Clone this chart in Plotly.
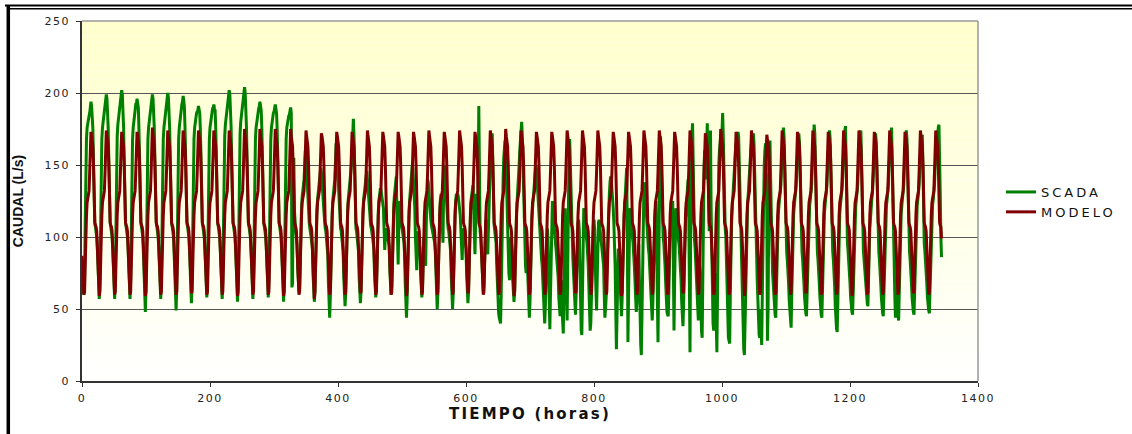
import plotly.graph_objects as go

# ---------------- data ----------------
X_TICKS = [0, 200, 400, 600, 800, 1000, 1200, 1400]
Y_TICKS = [0, 50, 100, 150, 200, 250]

# SCADA: one row per day, 24 hourly values (L/s)
SCADA_DIAS = [
    [66, 62, 61, 61, 70, 110, 148, 168, 176, 180, 181, 184, 186, 190, 194, 191, 184, 175, 150, 120, 110, 107, 104, 100],
    [92, 75, 64, 57, 70, 110, 148, 168, 176, 180, 184, 187, 189, 195, 199, 196, 187, 175, 150, 120, 110, 107, 104, 100],
    [92, 75, 64, 57, 70, 112, 150, 170, 178, 182, 185, 188, 190, 198, 202, 199, 188, 176, 150, 120, 110, 107, 104, 100],
    [92, 75, 64, 57, 70, 110, 148, 168, 176, 180, 187, 190, 192, 192, 196, 193, 190, 175, 150, 120, 110, 107, 104, 100],
    [88, 70, 56, 48, 64, 108, 148, 168, 176, 180, 183, 186, 188, 195, 199, 196, 186, 175, 150, 120, 110, 107, 104, 100],
    [92, 75, 64, 57, 70, 110, 148, 168, 176, 180, 186, 189, 191, 196, 200, 197, 189, 175, 150, 120, 110, 107, 104, 100],
    [88, 70, 56, 49, 64, 108, 148, 168, 176, 180, 187, 190, 192, 194, 198, 195, 190, 175, 150, 120, 110, 107, 104, 100],
    [90, 72, 60, 54, 68, 110, 148, 168, 176, 180, 183, 186, 187, 188, 191, 188, 186, 174, 150, 120, 110, 107, 104, 100],
    [92, 76, 65, 58, 70, 110, 148, 168, 176, 180, 185, 188, 189, 189, 192, 189, 188, 175, 150, 120, 110, 107, 104, 100],
    [92, 75, 64, 57, 70, 112, 150, 170, 178, 182, 187, 190, 192, 198, 202, 199, 190, 176, 150, 120, 110, 107, 104, 100],
    [92, 74, 62, 55, 68, 112, 150, 172, 180, 184, 189, 192, 194, 200, 204, 200, 192, 176, 150, 120, 110, 107, 104, 100],
    [92, 75, 64, 57, 70, 110, 148, 168, 176, 180, 185, 188, 189, 191, 194, 191, 188, 175, 150, 120, 110, 107, 104, 100],
    [92, 76, 65, 58, 70, 110, 148, 168, 176, 180, 183, 186, 187, 189, 192, 189, 186, 174, 150, 120, 110, 107, 104, 100],
    [90, 72, 62, 55, 68, 110, 148, 168, 176, 180, 181, 184, 185, 187, 190, 186, 65, 68, 150, 155, 118, 108, 104, 100],
    [94, 78, 66, 62, 64, 88, 108, 120, 128, 132, 136, 140, 150, 160, 156, 145, 140, 132, 120, 110, 106, 104, 100, 96],
    [92, 74, 62, 55, 62, 86, 106, 118, 126, 130, 134, 138, 142, 148, 145, 135, 130, 125, 118, 110, 106, 104, 100, 96],
    [88, 68, 52, 44, 58, 84, 106, 118, 126, 130, 134, 140, 152, 165, 160, 150, 140, 130, 118, 110, 106, 104, 100, 96],
    [90, 72, 60, 52, 60, 86, 106, 118, 126, 130, 134, 138, 145, 150, 160, 172, 182, 170, 140, 115, 106, 104, 100, 96],
    [90, 72, 60, 54, 62, 86, 106, 118, 126, 130, 134, 138, 142, 146, 140, 132, 128, 122, 115, 108, 106, 104, 100, 96],
    [92, 75, 64, 58, 64, 88, 106, 118, 126, 130, 133, 133, 130, 128, 125, 120, 105, 91, 100, 106, 104, 102, 100, 96],
    [94, 76, 66, 60, 66, 88, 108, 120, 128, 134, 140, 142, 120, 95, 81, 110, 125, 120, 112, 108, 106, 104, 100, 96],
    [88, 68, 52, 44, 56, 84, 106, 118, 126, 132, 140, 145, 150, 148, 140, 130, 120, 100, 90, 77, 95, 104, 100, 96],
    [92, 75, 64, 58, 64, 88, 100, 90, 85, 80, 110, 130, 140, 138, 130, 122, 118, 112, 108, 106, 104, 102, 100, 96],
    [90, 72, 58, 50, 60, 86, 106, 118, 126, 130, 120, 105, 96, 130, 150, 145, 135, 125, 115, 108, 106, 104, 100, 96],
    [90, 72, 58, 50, 60, 86, 106, 118, 126, 130, 128, 130, 128, 124, 120, 115, 105, 95, 84, 100, 106, 104, 100, 96],
    [92, 74, 62, 54, 62, 86, 106, 118, 126, 130, 134, 136, 120, 100, 88, 110, 130, 128, 120, 140, 191, 110, 104, 100],
    [90, 78, 68, 62, 66, 88, 106, 112, 100, 92, 88, 105, 125, 140, 150, 160, 168, 172, 150, 120, 108, 104, 100, 96],
    [80, 62, 50, 47, 44, 42, 40, 60, 100, 125, 140, 155, 162, 167, 160, 140, 120, 100, 85, 75, 70, 95, 100, 96],
    [90, 70, 60, 55, 62, 86, 106, 118, 126, 132, 140, 150, 160, 170, 176, 180, 170, 150, 120, 100, 85, 80, 75, 85],
    [80, 62, 50, 44, 55, 80, 100, 112, 120, 126, 132, 140, 145, 150, 148, 140, 130, 118, 108, 100, 95, 90, 85, 80],
    [70, 55, 45, 40, 52, 78, 96, 106, 100, 70, 45, 36, 60, 95, 120, 125, 118, 110, 104, 100, 95, 90, 85, 80],
    [72, 58, 48, 45, 55, 70, 50, 38, 33, 60, 100, 120, 90, 60, 42, 80, 130, 160, 168, 150, 120, 104, 95, 85],
    [75, 60, 50, 46, 58, 82, 100, 110, 112, 105, 80, 50, 35, 32, 60, 100, 120, 118, 110, 104, 100, 96, 90, 80],
    [65, 45, 35, 40, 62, 86, 100, 108, 112, 105, 80, 60, 49, 70, 100, 110, 112, 108, 104, 100, 96, 92, 88, 80],
    [60, 44, 50, 58, 76, 95, 110, 120, 130, 138, 142, 140, 135, 128, 120, 110, 100, 80, 50, 22, 45, 80, 92, 85],
    [75, 60, 50, 45, 58, 82, 100, 112, 122, 135, 145, 148, 110, 27, 60, 100, 120, 118, 110, 104, 100, 96, 90, 80],
    [70, 55, 48, 55, 70, 90, 95, 70, 40, 25, 18, 45, 95, 120, 135, 138, 130, 118, 108, 100, 96, 92, 88, 80],
    [72, 58, 48, 42, 55, 80, 100, 112, 120, 125, 90, 45, 27, 70, 130, 160, 170, 150, 120, 104, 100, 96, 90, 80],
    [68, 55, 48, 46, 45, 62, 90, 104, 112, 120, 124, 125, 95, 35, 70, 110, 120, 116, 108, 102, 98, 94, 88, 80],
    [70, 55, 42, 38, 52, 80, 100, 112, 120, 128, 135, 140, 120, 80, 20, 100, 150, 170, 179, 140, 110, 98, 92, 82],
    [70, 55, 46, 42, 55, 80, 70, 45, 35, 30, 80, 130, 150, 160, 150, 140, 160, 179, 150, 115, 104, 140, 174, 120],
    [80, 52, 40, 35, 50, 75, 60, 35, 20, 60, 120, 150, 160, 165, 170, 160, 175, 186, 170, 140, 115, 106, 100, 80],
    [58, 40, 30, 28, 26, 60, 95, 110, 120, 130, 140, 150, 155, 160, 165, 160, 165, 173, 170, 150, 130, 110, 90, 66],
    [50, 32, 22, 18, 40, 75, 100, 112, 122, 130, 140, 150, 155, 160, 165, 162, 168, 172, 165, 140, 115, 106, 90, 70],
    [55, 40, 32, 30, 50, 35, 25, 60, 100, 130, 150, 160, 165, 160, 120, 28, 50, 110, 150, 167, 140, 108, 90, 75],
    [68, 58, 50, 46, 44, 62, 90, 106, 116, 122, 126, 130, 136, 148, 160, 172, 176, 170, 148, 112, 96, 90, 84, 78],
    [68, 56, 46, 39, 37, 60, 90, 106, 116, 122, 126, 130, 136, 148, 160, 168, 172, 166, 148, 112, 96, 90, 84, 78],
    [68, 58, 50, 47, 45, 62, 90, 106, 116, 122, 126, 130, 136, 148, 160, 174, 178, 172, 148, 112, 96, 90, 84, 78],
    [68, 58, 50, 46, 44, 62, 90, 106, 116, 122, 126, 130, 136, 148, 160, 170, 174, 168, 148, 112, 96, 90, 84, 78],
    [66, 52, 40, 36, 34, 58, 90, 106, 116, 122, 126, 130, 136, 148, 160, 170, 174, 177, 150, 112, 96, 90, 84, 78],
    [68, 58, 50, 48, 46, 62, 90, 106, 116, 122, 126, 130, 136, 148, 160, 168, 170, 174, 150, 112, 96, 90, 84, 78],
    [70, 62, 55, 54, 52, 64, 90, 106, 116, 122, 126, 130, 136, 148, 160, 168, 172, 166, 148, 112, 96, 90, 84, 78],
    [68, 58, 50, 47, 45, 62, 90, 106, 116, 122, 126, 130, 136, 148, 160, 168, 172, 176, 150, 112, 96, 80, 60, 44],
    [60, 70, 52, 44, 42, 62, 90, 106, 116, 122, 126, 130, 136, 148, 160, 170, 174, 168, 148, 112, 96, 90, 84, 78],
    [68, 58, 50, 48, 46, 62, 90, 106, 116, 122, 126, 130, 136, 148, 160, 166, 168, 171, 148, 112, 96, 90, 84, 78],
    [68, 58, 50, 49, 47, 62, 90, 106, 116, 122, 126, 130, 136, 148, 155, 160, 165, 172, 176, 178, 160, 130, 100, 86],
]

# MODELO: one row per day, 24 hourly values (L/s)
MODELO_DIAS = [
    [87, 78, 66, 60, 62, 85, 106, 115, 124, 126, 128, 132, 145, 165, 173, 170, 166, 163, 150, 125, 110, 108, 107, 104],
    [92, 78, 66, 59, 62, 85, 106, 115, 124, 126, 128, 132, 145, 165, 174, 170, 166, 163, 150, 125, 110, 108, 107, 104],
    [92, 78, 66, 60, 62, 85, 106, 115, 124, 126, 128, 132, 145, 165, 173, 170, 166, 163, 150, 125, 110, 108, 107, 104],
    [92, 78, 66, 60, 62, 85, 106, 115, 124, 126, 128, 132, 145, 165, 173, 170, 166, 163, 150, 125, 110, 108, 107, 104],
    [92, 78, 66, 59, 62, 85, 106, 115, 124, 126, 128, 132, 145, 166, 176, 171, 166, 163, 150, 125, 110, 108, 107, 104],
    [92, 78, 66, 60, 62, 85, 106, 115, 124, 126, 128, 132, 145, 165, 174, 170, 166, 163, 150, 125, 110, 108, 107, 104],
    [92, 78, 66, 60, 62, 85, 106, 115, 124, 126, 128, 132, 145, 165, 174, 170, 166, 163, 150, 125, 110, 108, 107, 104],
    [92, 78, 66, 61, 62, 85, 106, 115, 124, 126, 128, 132, 145, 165, 174, 170, 166, 163, 150, 125, 110, 108, 107, 104],
    [92, 78, 66, 60, 62, 85, 106, 115, 124, 126, 128, 132, 145, 165, 174, 170, 166, 163, 150, 125, 110, 108, 107, 104],
    [92, 78, 66, 60, 62, 85, 106, 115, 124, 126, 128, 132, 145, 165, 174, 170, 166, 163, 150, 125, 110, 108, 107, 104],
    [92, 78, 66, 59, 62, 85, 106, 115, 124, 126, 128, 132, 145, 165, 175, 170, 166, 163, 150, 125, 110, 108, 107, 104],
    [92, 78, 66, 60, 62, 85, 106, 115, 124, 126, 128, 132, 145, 165, 175, 170, 166, 163, 150, 125, 110, 108, 107, 104],
    [92, 78, 66, 60, 62, 85, 106, 115, 124, 126, 128, 132, 145, 165, 175, 170, 166, 163, 150, 125, 110, 108, 107, 104],
    [92, 78, 66, 59, 62, 85, 106, 115, 124, 126, 128, 132, 145, 165, 175, 170, 166, 163, 150, 125, 110, 108, 107, 104],
    [92, 78, 66, 60, 62, 85, 106, 115, 124, 126, 128, 132, 145, 165, 174, 170, 166, 163, 150, 125, 110, 108, 107, 104],
    [92, 78, 66, 57, 62, 85, 106, 115, 124, 126, 128, 132, 145, 165, 172, 170, 166, 163, 150, 125, 110, 108, 107, 104],
    [92, 78, 66, 60, 62, 85, 106, 115, 124, 126, 128, 132, 145, 165, 173, 170, 166, 163, 150, 125, 110, 108, 107, 104],
    [92, 78, 66, 60, 62, 85, 106, 115, 124, 126, 128, 132, 145, 165, 173, 170, 166, 163, 150, 125, 110, 108, 107, 104],
    [92, 78, 66, 61, 62, 85, 106, 115, 124, 126, 128, 132, 145, 165, 174, 170, 166, 163, 150, 125, 110, 108, 107, 104],
    [92, 78, 66, 60, 62, 85, 106, 115, 124, 126, 128, 132, 145, 165, 173, 170, 166, 163, 150, 125, 110, 108, 107, 104],
    [92, 78, 66, 60, 62, 85, 106, 115, 124, 126, 128, 132, 145, 165, 173, 170, 166, 163, 150, 125, 110, 108, 107, 104],
    [92, 78, 66, 59, 62, 85, 106, 115, 124, 126, 128, 132, 145, 165, 173, 170, 166, 163, 150, 125, 110, 108, 107, 104],
    [92, 78, 66, 60, 62, 85, 106, 115, 124, 126, 128, 132, 145, 165, 174, 170, 166, 163, 150, 125, 110, 108, 107, 104],
    [92, 78, 66, 60, 62, 85, 106, 115, 124, 126, 128, 132, 145, 165, 173, 170, 166, 163, 150, 125, 110, 108, 107, 104],
    [92, 78, 66, 60, 62, 85, 106, 115, 124, 126, 128, 132, 145, 165, 174, 170, 166, 163, 150, 125, 110, 108, 107, 104],
    [92, 78, 66, 61, 62, 85, 106, 115, 124, 126, 128, 132, 145, 165, 173, 170, 166, 163, 150, 125, 110, 108, 107, 104],
    [92, 78, 66, 60, 62, 85, 106, 115, 124, 126, 128, 132, 145, 165, 174, 170, 166, 163, 150, 125, 110, 108, 107, 104],
    [92, 78, 66, 60, 62, 85, 106, 115, 124, 126, 128, 132, 145, 165, 175, 170, 166, 163, 150, 125, 110, 108, 107, 104],
    [92, 78, 66, 59, 62, 85, 106, 115, 124, 126, 128, 132, 145, 165, 174, 170, 166, 163, 150, 125, 110, 108, 107, 104],
    [92, 78, 66, 60, 62, 85, 106, 115, 124, 126, 128, 132, 145, 165, 173, 170, 166, 163, 150, 125, 110, 108, 107, 104],
    [92, 78, 66, 60, 62, 85, 106, 115, 124, 126, 128, 132, 145, 165, 173, 170, 166, 163, 150, 125, 110, 108, 107, 104],
    [92, 78, 66, 60, 62, 85, 106, 115, 124, 126, 128, 132, 145, 165, 174, 170, 166, 163, 150, 125, 110, 108, 107, 104],
    [92, 78, 66, 61, 62, 85, 106, 115, 124, 126, 128, 132, 145, 165, 174, 170, 166, 163, 150, 125, 110, 108, 107, 104],
    [92, 78, 66, 60, 62, 85, 106, 115, 124, 126, 128, 132, 145, 165, 174, 170, 166, 163, 150, 125, 110, 108, 107, 104],
    [92, 78, 66, 60, 62, 85, 106, 115, 124, 126, 128, 132, 145, 165, 173, 170, 166, 163, 150, 125, 110, 108, 107, 104],
    [92, 78, 66, 59, 62, 85, 106, 115, 124, 126, 128, 132, 145, 165, 173, 170, 166, 163, 150, 125, 110, 108, 107, 104],
    [92, 78, 66, 60, 62, 85, 106, 115, 124, 126, 128, 132, 145, 165, 174, 170, 166, 163, 150, 125, 110, 108, 107, 104],
    [92, 78, 66, 60, 62, 85, 106, 115, 124, 126, 128, 132, 145, 165, 174, 170, 166, 163, 150, 125, 110, 108, 107, 104],
    [92, 78, 66, 60, 62, 85, 106, 115, 124, 126, 128, 132, 145, 165, 173, 170, 166, 163, 150, 125, 110, 108, 107, 104],
    [92, 78, 66, 61, 62, 85, 106, 115, 124, 126, 128, 132, 145, 165, 174, 170, 166, 163, 150, 125, 110, 108, 107, 104],
    [92, 78, 66, 60, 62, 85, 106, 115, 124, 126, 128, 132, 145, 163, 172, 169, 166, 163, 150, 125, 110, 108, 107, 104],
    [92, 78, 66, 60, 62, 85, 106, 115, 124, 126, 128, 132, 145, 165, 175, 170, 166, 163, 150, 125, 110, 108, 107, 104],
    [92, 78, 66, 60, 62, 85, 106, 115, 124, 126, 128, 132, 145, 165, 173, 170, 166, 163, 150, 125, 110, 108, 107, 104],
    [92, 78, 66, 59, 62, 85, 106, 115, 124, 126, 128, 132, 145, 165, 174, 170, 166, 163, 150, 125, 110, 108, 107, 104],
    [92, 78, 66, 60, 62, 85, 106, 115, 124, 126, 128, 132, 145, 163, 171, 168, 166, 163, 150, 125, 110, 108, 107, 104],
    [92, 78, 66, 60, 62, 85, 106, 115, 124, 126, 128, 132, 145, 165, 174, 170, 166, 163, 150, 125, 110, 108, 107, 104],
    [92, 78, 66, 60, 62, 85, 106, 115, 124, 126, 128, 132, 145, 165, 173, 170, 166, 163, 150, 125, 110, 108, 107, 104],
    [92, 78, 66, 61, 62, 85, 106, 115, 124, 126, 128, 132, 145, 165, 174, 170, 166, 163, 150, 125, 110, 108, 107, 104],
    [92, 78, 66, 60, 62, 85, 106, 115, 124, 126, 128, 132, 145, 165, 173, 170, 166, 163, 150, 125, 110, 108, 107, 104],
    [92, 78, 66, 60, 62, 85, 106, 115, 124, 126, 128, 132, 145, 165, 174, 170, 166, 163, 150, 125, 110, 108, 107, 104],
    [92, 78, 66, 59, 62, 85, 106, 115, 124, 126, 128, 132, 145, 165, 174, 170, 166, 163, 150, 125, 110, 108, 107, 104],
    [92, 78, 66, 60, 62, 85, 106, 115, 124, 126, 128, 132, 145, 165, 173, 170, 166, 163, 150, 125, 110, 108, 107, 104],
    [92, 78, 66, 60, 62, 85, 106, 115, 124, 126, 128, 132, 145, 165, 174, 170, 166, 163, 150, 125, 110, 108, 107, 104],
    [92, 78, 66, 60, 62, 85, 106, 115, 124, 126, 128, 132, 145, 165, 173, 170, 166, 163, 150, 125, 110, 108, 107, 104],
    [92, 78, 66, 61, 62, 85, 106, 115, 124, 126, 128, 132, 145, 165, 174, 170, 166, 163, 150, 125, 110, 108, 107, 104],
    [92, 78, 66, 60, 62, 85, 106, 115, 124, 126, 128, 132, 145, 165, 174, 170, 166, 163, 150, 125, 110, 108, 107, 99],
]

scada = [v for dia in SCADA_DIAS for v in dia]
modelo = [v for dia in MODELO_DIAS for v in dia]
horas = list(range(len(modelo)))

# ---------------- figure ----------------
W, H = 1132, 434
L, R, T, B = 82, 154, 21, 53
PW, PH = W - L - R, H - T - B


def px(xp):
    return (xp - L) / PW


def py(yp):
    return (H - B - yp) / PH


def spaced(txt, sp):
    return f"<span style='letter-spacing:{sp}px'>{txt}</span>"


fig = go.Figure()
fig.add_trace(go.Scatter(x=horas, y=scada, mode="lines", name=spaced("SCADA", 3),
                         line=dict(color="#008000", width=3)))
fig.add_trace(go.Scatter(x=horas, y=modelo, mode="lines", name=spaced("MODELO", 3),
                         line=dict(color="#800000", width=3)))

shapes = []
# background gradient of the plot area (pale yellow at top to white)
N = 50
for i in range(N):
    f = (i + 0.5) / N
    g = int(round(255 - (255 - 204) * f))
    shapes.append(dict(type="rect", xref="x", yref="y", x0=0, x1=1400,
                       y0=250 * i / N, y1=250 * (i + 1) / N, layer="below",
                       line=dict(width=0), fillcolor=f"rgb(255,255,{g})"))
# plot-area border (top/right grey)
shapes.append(dict(type="line", xref="paper", yref="paper", x0=0, x1=1, y0=1, y1=1,
                   line=dict(color="#999999", width=1.5)))
shapes.append(dict(type="line", xref="paper", yref="paper", x0=1, x1=1, y0=0, y1=1,
                   line=dict(color="#999999", width=1.5)))
# outer frame (double top line, thick left line)
shapes.append(dict(type="line", xref="paper", yref="paper", x0=px(5), x1=px(1140),
                   y0=py(5.5), y1=py(5.5), line=dict(color="black", width=2)))
shapes.append(dict(type="line", xref="paper", yref="paper", x0=px(7), x1=px(1140),
                   y0=py(8.8), y1=py(8.8), line=dict(color="black", width=1.5)))
shapes.append(dict(type="line", xref="paper", yref="paper", x0=px(8.3), x1=px(8.3),
                   y0=py(5), y1=py(440), line=dict(color="black", width=3.5)))

TICKFONT = dict(family="DejaVu Sans", size=11, color="#222222")

fig.update_layout(
    width=W, height=H,
    margin=dict(l=L, r=R, t=T, b=B, pad=0, autoexpand=False),
    paper_bgcolor="white", plot_bgcolor="white",
    shapes=shapes,
    showlegend=True,
    legend=dict(x=px(1001), y=py(177), xanchor="left", yanchor="top",
                font=dict(family="DejaVu Sans", size=13, color="#111111"),
                bgcolor="rgba(0,0,0,0)", borderwidth=0, itemwidth=30,
                tracegroupgap=0),
    xaxis=dict(range=[0, 1400], tickvals=X_TICKS,
               ticktext=[spaced(str(v), 1.5) for v in X_TICKS],
               ticks="outside", ticklen=4, automargin=False,
               tickcolor="#333333", showline=True, linecolor="#333333", linewidth=1.5,
               showgrid=False, zeroline=False, tickfont=TICKFONT, ticklabelstandoff=2,
               title=dict(text=spaced("TIEMPO (horas)", 2.2),
                          font=dict(family="DejaVu Sans", size=15, color="#111111",
                                    weight="bold"), standoff=5)),
    yaxis=dict(range=[0, 250], tickvals=Y_TICKS,
               ticktext=[spaced(str(v), 1.5) for v in Y_TICKS],
               ticks="outside", ticklen=4, automargin=False,
               tickcolor="#333333", showline=True, linecolor="#333333", linewidth=1.5,
               showgrid=True, gridcolor="#555555", gridwidth=1, zeroline=False,
               tickfont=TICKFONT, ticklabelstandoff=4,
               title=dict(text="CAUDAL (L/s)",
                          font=dict(family="Liberation Sans", size=14, color="#111111",
                                    weight="bold"), standoff=18)),
)

# remove the browser's default 8px page margin so the figure sits at (0, 0)
fig.write_html("out.html", config={"displayModeBar": False},
               post_script="document.body.style.margin='0';")
